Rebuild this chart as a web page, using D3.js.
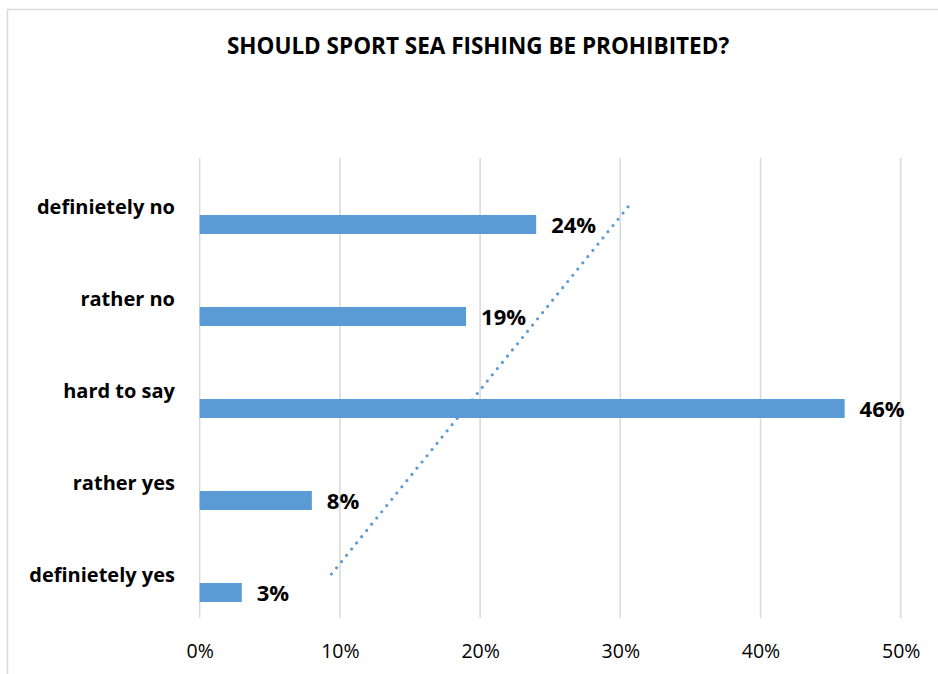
<!DOCTYPE html>
<html>
<head>
<meta charset="utf-8">
<script src="https://cdn.jsdelivr.net/npm/d3@7"></script>
<style>
  html, body { margin: 0; padding: 0; background: #fff; }
  svg { display: block; }
  text { font-family: "Open Sans", Carlito, Calibri, sans-serif; fill: #000; }
</style>
</head>
<body>
<svg id="chart" width="938" height="674"></svg>
<script>
// Survey answers, listed top to bottom as shown on the chart
const categories = ["definietely no", "rather no", "hard to say", "rather yes", "definietely yes"];
const shares = [0.24, 0.19, 0.46, 0.08, 0.03];
const tickValues = [0, 0.1, 0.2, 0.3, 0.4, 0.5];
const tickLabels = ["0%", "10%", "20%", "30%", "40%", "50%"];
const title = "SHOULD SPORT SEA FISHING BE PROHIBITED?";

const W = 938, H = 674;
const plot = { left: 199.7, right: 900.7, top: 158, bottom: 618 };
const barColor = "#5B9BD5";
const gridColor = "#D9D9D9";
const fontFamily = "\"Open Sans\", Carlito, Calibri, sans-serif";

const svg = d3.select("#chart");

svg.append("rect").attr("width", W).attr("height", H).attr("fill", "#fff");

// chart frame (right and bottom edges run off the page)
svg.append("rect")
  .attr("x", 7.5).attr("y", 9.5)
  .attr("width", 1000).attr("height", 800)
  .attr("fill", "none").attr("stroke", gridColor).attr("stroke-width", 1.5);

const x = d3.scaleLinear().domain([0, 0.5]).range([plot.left, plot.right]);
const y = d3.scaleBand().domain(categories).range([plot.top, plot.bottom]).padding(0);
const bw = y.bandwidth();
const mid = c => y(c) + bw / 2;

// vertical gridlines
svg.append("g")
  .selectAll("line")
  .data(tickValues)
  .join("line")
  .attr("x1", d => x(d)).attr("x2", d => x(d))
  .attr("y1", plot.top).attr("y2", plot.bottom)
  .attr("stroke", gridColor).attr("stroke-width", 1.5);

// x axis tick labels
const xAxis = d3.axisBottom(x)
  .tickValues(tickValues)
  .tickFormat((d, i) => tickLabels[i])
  .tickSize(0)
  .tickPadding(0);
const gx = svg.append("g").attr("transform", `translate(0,${plot.bottom})`).call(xAxis);
gx.select(".domain").remove();
gx.selectAll("text")
  .attr("y", 40)
  .attr("dy", null)
  .style("font-size", "19.5px")
  .style("font-family", fontFamily)
  .attr("fill", "#000");

// linear trendline through the values, ordered from bottom category (1) to top (n)
const n = shares.length;
const pts = shares.map((v, i) => ({ k: n - i, v, c: categories[i] }));
const mk = d3.mean(pts, p => p.k), mv = d3.mean(pts, p => p.v);
const slope = d3.sum(pts, p => (p.k - mk) * (p.v - mv)) / d3.sum(pts, p => (p.k - mk) ** 2);
const icpt = mv - slope * mk;
const trendPts = [pts[n - 1], pts[0]].map(p => [x(icpt + slope * p.k), mid(p.c) + 2]);
svg.append("path")
  .attr("d", d3.line()(trendPts))
  .attr("fill", "none")
  .attr("stroke", barColor)
  .attr("stroke-width", 3.2)
  .attr("stroke-linecap", "round")
  .attr("stroke-dasharray", "0 8");

// bars sit in the lower half of each category band
const barTop = c => mid(c) + 11;
const barH = 19;
svg.append("g")
  .selectAll("rect")
  .data(shares)
  .join("rect")
  .attr("x", x(0))
  .attr("y", (d, i) => barTop(categories[i]))
  .attr("width", d => x(d) - x(0))
  .attr("height", barH)
  .attr("fill", barColor);

// value labels
svg.append("g")
  .selectAll("text")
  .data(shares)
  .join("text")
  .attr("x", d => x(d) + 15)
  .attr("y", (d, i) => barTop(categories[i]) + barH - 1)
  .style("font-size", "22px")
  .style("font-weight", "bold")
  .text(d => d3.format(".0%")(d));

// category labels, right-aligned left of the plot
svg.append("g")
  .selectAll("text")
  .data(categories)
  .join("text")
  .attr("x", 175)
  .attr("y", c => mid(c) + 10)
  .attr("text-anchor", "end")
  .style("font-size", "20px")
  .style("font-weight", "bold")
  .text(c => c);

// title
svg.append("text")
  .attr("x", 478)
  .attr("y", 53.5)
  .attr("text-anchor", "middle")
  .style("font-size", "22.5px")
  .style("font-weight", "bold")
  .text(title);
</script>
</body>
</html>
